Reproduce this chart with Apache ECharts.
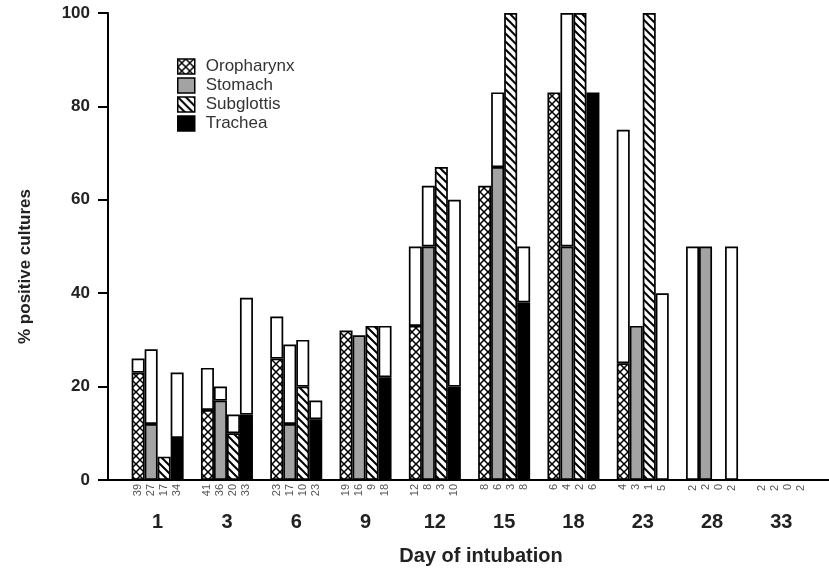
<!DOCTYPE html>
<html>
<head>
<meta charset="utf-8">
<script src="https://cdn.jsdelivr.net/npm/echarts@6/dist/echarts.min.js"></script>
<style>
html,body{margin:0;padding:0;background:#fff;}
#chart{width:829px;height:572px;}
</style>
</head>
<body>
<div id="chart"></div>
<script>
// ---- data ----
const days = ['1','3','6','9','12','15','18','23','28','33'];
const seriesNames = ['Oropharynx','Stomach','Subglottis','Trachea'];
// positive (patterned) part, %
const oroPos   = [23,15,26,32,33,63,83,25,0,0];
const stomPos  = [12,17,12,31,50,67,50,33,50,0];
const subPos   = [5,10,20,33,67,100,100,100,0,0];
const trachPos = [9,14,13,22,20,38,83,0,0,0];
// total height of bar (white part on top), %
const oroTot   = [26,24,35,32,50,63,83,75,50,0];
const stomTot  = [28,20,29,31,63,83,100,33,50,0];
const subTot   = [5,14,30,33,67,100,100,100,0,0];
const trachTot = [23,39,17,33,60,50,83,40,50,0];
// number of samples under each bar
const oroN   = [39,41,23,19,12,8,6,4,2,2];
const stomN  = [27,36,17,16,8,6,4,3,2,2];
const subN   = [17,20,10,9,3,3,2,1,0,0];
const trachN = [34,33,23,18,10,8,6,5,2,2];
const yTicks = [0,20,40,60,80,100];

// ---- patterns ----
function tile(kind){
  const s = 8;
  const c = document.createElement('canvas');
  c.width = s; c.height = s;
  const g = c.getContext('2d');
  g.fillStyle = '#fff'; g.fillRect(0,0,s,s);
  g.strokeStyle = '#000';
  g.lineWidth = kind === 'cross' ? 1.5 : 2;
  g.lineCap = 'square';
  for (let k = -1; k <= 1; k++) {
    const x0 = k * s;
    g.beginPath(); g.moveTo(x0 - 1, -1); g.lineTo(x0 + s + 1, s + 1); g.stroke();
    if (kind === 'cross') {
      g.beginPath(); g.moveTo(x0 - 1, s + 1); g.lineTo(x0 + s + 1, -1); g.stroke();
    }
  }
  return c;
}
const crossFill = {image: tile('cross'), repeat: 'repeat'};
const hatchFill = {image: tile('hatch'), repeat: 'repeat'};
const fills = [crossFill, '#a3a3a3', hatchFill, '#000'];

const posArr = [oroPos, stomPos, subPos, trachPos];
const totArr = [oroTot, stomTot, subTot, trachTot];
const nArr = [oroN, stomN, subN, trachN];
const stacks = ['o','s','u','t'];

const border = {borderColor:'#000', borderWidth:1.7};
const series = [];
for (let i = 0; i < 4; i++) {
  const pos = posArr[i], nn = nArr[i];
  series.push({
    name: seriesNames[i], type: 'bar', stack: stacks[i],
    barWidth: 13, barGap: '0%', barCategoryGap: '25%',
    itemStyle: Object.assign({color: fills[i]}, border),
    data: pos.map((v, j) => nn[j] === 0 ? {value: 0, itemStyle: {borderWidth: 0}} : v),
    label: {
      show: true, position: 'bottom', distance: 4, rotate: 90,
      align: 'right', verticalAlign: 'middle',
      fontFamily: 'Liberation Sans, Arial, sans-serif', fontSize: 11, color: '#555',
      formatter: p => String(nn[p.dataIndex])
    }
  });
}
for (let i = 0; i < 4; i++) {
  const pos = posArr[i], tot = totArr[i];
  series.push({
    name: seriesNames[i] + ' total', type: 'bar', stack: stacks[i],
    barWidth: 13, barGap: '0%',
    itemStyle: Object.assign({color: '#fff'}, border),
    data: tot.map((t, j) => (t - pos[j]) > 0 ? t - pos[j] : null)
  });
}

const chart = echarts.init(document.getElementById('chart'), null, {renderer: 'canvas'});
const font = 'Liberation Sans, Arial, sans-serif';
chart.setOption({
  animation: false,
  backgroundColor: '#fff',
  grid: {left: 123, width: 693, top: 13, bottom: 92, containLabel: false},
  legend: {
    data: seriesNames, orient: 'vertical', left: 177, top: 58, padding: 0,
    itemWidth: 17, itemHeight: 15, itemGap: 2, icon: 'rect',
    itemStyle: {borderColor: '#000', borderWidth: 1.5},
    textStyle: {fontFamily: font, fontSize: 17, color: '#333', lineHeight: 15, padding: [0,0,0,6]},
    selectedMode: false
  },
  xAxis: {
    type: 'category', data: days,
    axisLine: {lineStyle: {color: '#000', width: 2}},
    axisTick: {show: false},
    axisLabel: {margin: 32, fontFamily: font, fontWeight: 'bold', fontSize: 20, color: '#222'},
    name: 'Day of intubation', nameLocation: 'middle', nameGap: 66,
    nameTextStyle: {fontFamily: font, fontWeight: 'bold', fontSize: 20, color: '#222', padding: [0,0,0,23]}
  },
  yAxis: {
    type: 'value', min: 0, max: 100, interval: 20, offset: 15,
    axisLine: {show: true, lineStyle: {color: '#000', width: 2}},
    axisTick: {show: true, length: 10, lineStyle: {color: '#000', width: 2}},
    splitLine: {show: false},
    axisLabel: {margin: 18, fontFamily: font, fontWeight: 'bold', fontSize: 17, color: '#222',
      formatter: v => yTicks.indexOf(v) >= 0 ? String(v) : ''},
    name: '% positive cultures', nameLocation: 'middle', nameGap: 74,
    nameTextStyle: {fontFamily: font, fontWeight: 'bold', fontSize: 17, color: '#222', padding: [0,40,0,0]}
  },
  series: series
});
// extend baseline to match the reference axis (decoration only)
const y0 = chart.convertToPixel({yAxisIndex: 0}, 0);
chart.setOption({
  graphic: [
    {type: 'line', shape: {x1: 107, y1: y0, x2: 124, y2: y0}, style: {stroke: '#000', lineWidth: 2}},
    {type: 'line', shape: {x1: 815, y1: y0, x2: 829, y2: y0}, style: {stroke: '#000', lineWidth: 2}}
  ]
});
</script>
</body>
</html>
